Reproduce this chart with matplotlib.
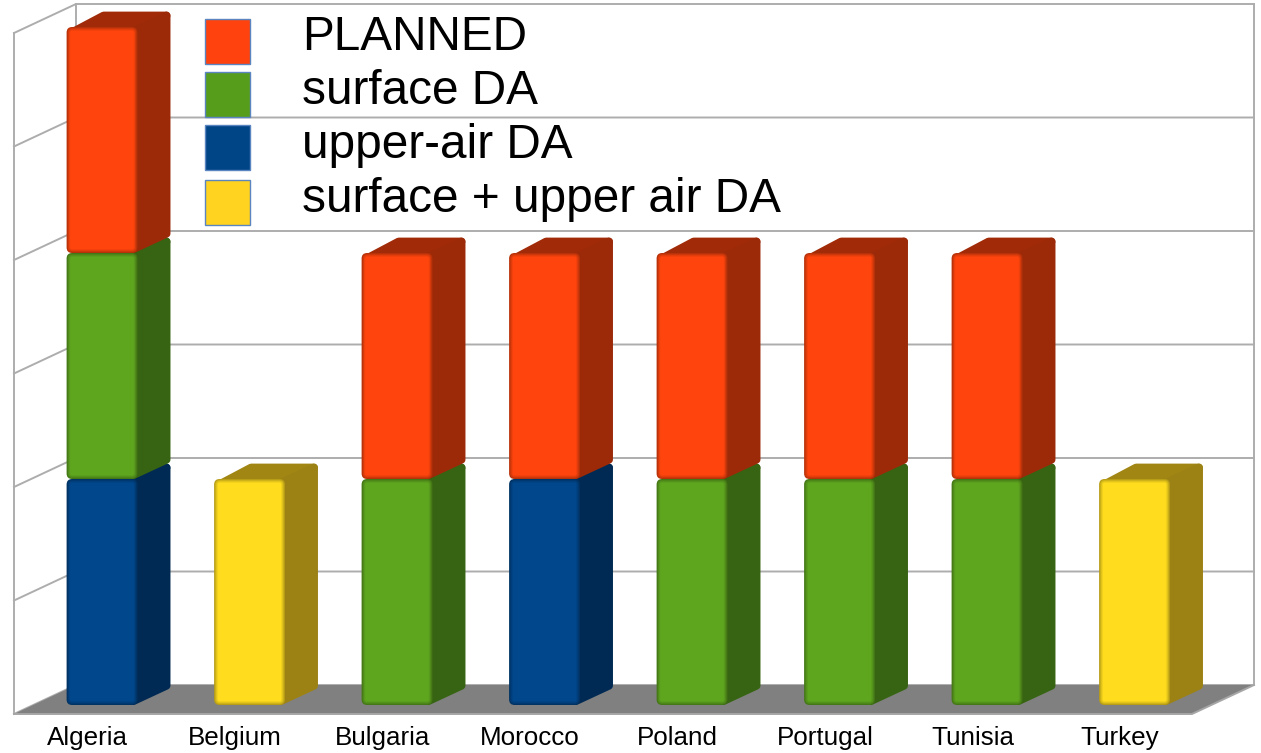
import numpy as np
import matplotlib
matplotlib.use('Agg')
import matplotlib.pyplot as plt
import matplotlib.colors as colors
from matplotlib.patches import FancyBboxPatch, Polygon, Rectangle
from matplotlib.transforms import Affine2D

plt.rcParams['font.family'] = ['Liberation Sans', 'DejaVu Sans']

# Data
countries = ['Algeria', 'Belgium', 'Bulgaria', 'Morocco', 'Poland', 'Portugal', 'Tunisia', 'Turkey']
upper_air = [1, 0, 0, 1, 0, 0, 0, 0]
both = [0, 1, 0, 0, 0, 0, 0, 1]
surface = [1, 0, 1, 0, 1, 1, 1, 0]
planned = [1, 0, 1, 1, 1, 1, 1, 0]
wall_ticks = [0, 0.5, 1, 1.5, 2, 2.5, 3]

legend_labels = ['PLANNED', 'surface DA', 'upper-air DA', 'surface + upper air DA']
legend_colors = ['#ff420e', '#579d1c', '#004586', '#ffd320']
legend_box_y = [19, 72, 125, 180]
legend_text_y = [38, 92, 146, 200]

# bottom to top: series values, front colour, side colour
stack = [
    (upper_air, '#00478c', '#002a54'),
    (both, '#ffdc1e', '#9c8214'),
    (surface, '#5fa61f', '#376412'),
    (planned, '#ff450d', '#9c2a08'),
]

# 3d look, in data units
half_w = 0.24
depth_x = 0.224
depth_y = 0.068
px_x = 147.5
px_y = 226.0

fig = plt.figure(figsize=(12.61, 7.53), dpi=100)
ax = fig.add_axes([0, 0, 1, 1])
ax.set_xlim((0 - 102) / px_x, (1261 - 102) / px_x)
ax.set_ylim((705 - 753) / px_y, (705 - 0) / px_y)
ax.axis('off')

# pixel coordinates for the legend, y going down
px = Affine2D().scale(1, -1).translate(0, 753)

# walls and floor
grid_c = '#adadad'
back_l, back_r = (76 - 102) / px_x, (1254 - 102) / px_x
front_l, front_r = (14 - 102) / px_x, (1192 - 102) / px_x
back_y, front_y = (705 - 685) / px_y, (705 - 714) / px_y
wall_scale = 227 / px_y

ax.add_patch(Polygon([(front_l, front_y), (front_r, front_y), (back_r, back_y), (back_l, back_y)],
                     fc='#808080', ec='none', zorder=1))
for v in wall_ticks:
    yb = back_y + v * wall_scale
    yf = front_y + v * wall_scale
    ax.plot([front_l, back_l, back_r], [yf, yb, yb], color=grid_c, lw=1.4, zorder=0.5,
            solid_joinstyle='miter')
top_b = back_y + 3 * wall_scale
top_f = front_y + 3 * wall_scale
ax.plot([front_l, front_l], [front_y, top_f], color=grid_c, lw=1.4, zorder=0.5)
ax.plot([back_l, back_l], [back_y, top_b], color=grid_c, lw=1.4, zorder=0.5)
ax.plot([back_r, back_r], [back_y, top_b], color=grid_c, lw=1.4, zorder=0.5)
ax.plot([front_l, front_r, back_r], [front_y, front_y, back_y], color='#a6a6a6', lw=1.4, zorder=1.5)


def mix(c1, c2, t):
    return tuple(np.array(colors.to_rgb(c1)) * (1 - t) + np.array(colors.to_rgb(c2)) * t)


def draw_segment(x, y0, y1, front, side, z):
    r = x + half_w
    l = x - half_w
    # thick round joins on inset polygons give the soft corners
    ix = 4 / px_x
    iy = 4 / px_y
    top_c = mix(side, front, 0.05)
    ax.add_patch(Polygon([(l + 2 * ix, y1 - iy), (l + depth_x + ix, y1 + depth_y - iy),
                          (r + depth_x - ix, y1 + depth_y - iy), (r, y1 - iy)],
                         fc=top_c, ec=top_c, lw=5.8, joinstyle='round', zorder=z))
    ax.add_patch(Polygon([(r - ix, y0 + iy), (r + depth_x - ix, y0 + depth_y + iy),
                          (r + depth_x - ix, y1 + depth_y - iy), (r - ix, y1 - iy)],
                         fc=side, ec=side, lw=5.8, joinstyle='round', zorder=z + 0.005))
    # front face, darker rim fading into the fill
    edge = mix(front, 'black', 0.28)
    for k, t in enumerate([0.0, 0.4, 0.75, 1.0]):
        inset = k * 1.2
        rnd = 5.5 - inset
        fx = inset / px_x
        fy = inset / px_y
        rx = rnd / px_x
        ry = rnd / px_y
        ax.add_patch(FancyBboxPatch((l + fx + rx, y0 + fy + ry),
                                    2 * (half_w - fx - rx),
                                    y1 - y0 - 2 * fy - 2 * ry,
                                    boxstyle='round,pad=%f,rounding_size=%f' % (rx, rx),
                                    mutation_aspect=px_x / px_y,
                                    fc=mix(edge, front, t), ec='none', zorder=z + 0.01 * (k + 1)))


bottom = np.zeros(len(countries))
z = 2
for values, front, side in stack:
    for i, v in enumerate(values):
        if v > 0:
            draw_segment(i, bottom[i], bottom[i] + v, front, side, z)
            z += 1
    bottom = bottom + np.array(values)

# country labels sit under the floor, a bit left of the bars
for i, name in enumerate(countries):
    ax.text(i - 0.098, -0.144, name, ha='center', va='center', fontsize=18.7, color='black', zorder=50)

# legend
for label, c, by, ty in zip(legend_labels, legend_colors, legend_box_y, legend_text_y):
    ax.add_patch(Rectangle((204.5, by), 45, 45, transform=px, fc=c, ec='#5b85c0', lw=1.0, zorder=60))
    ax.text(302, ty, label, transform=px, ha='left', va='center', fontsize=34.4, color='black', zorder=60)

fig.savefig('out.png', dpi=100)
